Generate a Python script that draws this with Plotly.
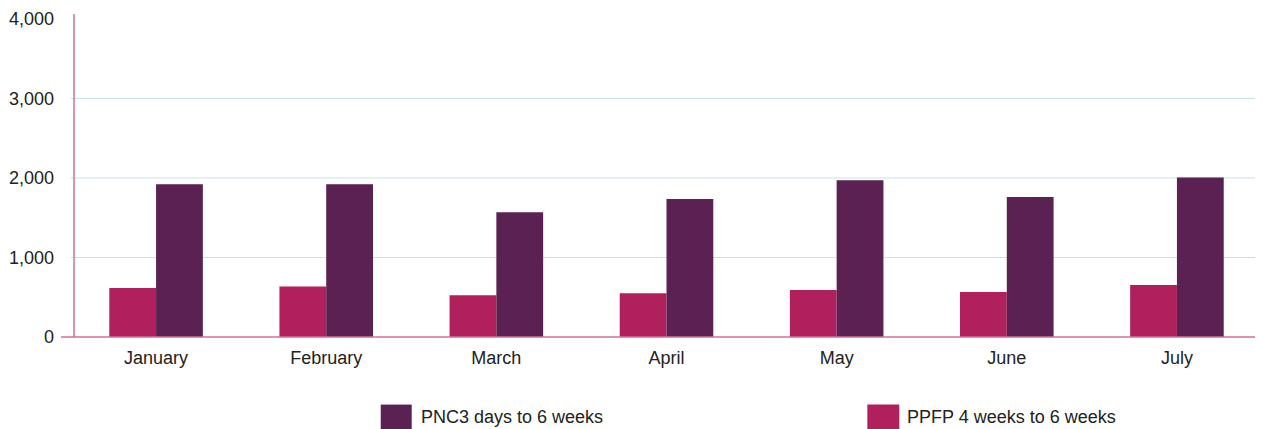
import plotly.graph_objects as go

months = ["January", "February", "March", "April", "May", "June", "July"]
pnc_values = [1920, 1920, 1570, 1735, 1970, 1760, 2005]
ppfp_values = [615, 635, 525, 550, 590, 565, 655]
pnc_name = "PNC3 days to 6 weeks"
ppfp_name = "PPFP 4 weeks to 6 weeks"
y_ticks = [0, 1000, 2000, 3000, 4000]

PNC_COLOR = "#5A2152"
PPFP_COLOR = "#B0205C"
AXIS_COLOR = "#D2709A"
GRID_COLOR = "#C5E2EA"

OFF = 8  # page body margin
W, H = 1263 - OFF, 429 - OFF
L, R, T, B = 70 - OFF, 1, 12 - OFF, 92
pw, ph = W - L - R, H - T - B

fig = go.Figure()
fig.add_trace(go.Bar(x=months, y=ppfp_values, name=ppfp_name,
                     marker=dict(color=PPFP_COLOR, line=dict(width=0)), showlegend=False))
fig.add_trace(go.Bar(x=months, y=pnc_values, name=pnc_name,
                     marker=dict(color=PNC_COLOR, line=dict(width=0)), showlegend=False))

def px_x(p):
    return (p - OFF - L) / pw

def px_y(p):
    return (H - B - (p - OFF)) / ph

shapes = []
# horizontal gridlines (the top tick has no gridline in the reference)
for v in y_ticks[1:-1]:
    shapes.append(dict(type="line", xref="paper", yref="y", x0=0, x1=1, y0=v, y1=v,
                       line=dict(color=GRID_COLOR, width=1), layer="below"))
shapes += [
    dict(type="line", xref="paper", yref="paper", x0=px_x(60), x1=1.0, y0=0, y1=0,
         line=dict(color=AXIS_COLOR, width=1.5), layer="above"),
    dict(type="line", xref="paper", yref="paper", x0=px_x(73), x1=px_x(73), y0=0, y1=1,
         line=dict(color=AXIS_COLOR, width=1.5), layer="above"),
    dict(type="rect", xref="paper", yref="paper", x0=px_x(380), x1=px_x(411),
         y0=px_y(430), y1=px_y(405), fillcolor=PNC_COLOR, line=dict(width=0)),
    dict(type="rect", xref="paper", yref="paper", x0=px_x(867), x1=px_x(899),
         y0=px_y(430), y1=px_y(405), fillcolor=PPFP_COLOR, line=dict(width=0)),
]

annotations = [
    dict(text=pnc_name, xref="paper", yref="paper", x=px_x(418), y=px_y(417),
         xanchor="left", yanchor="middle", showarrow=False,
         font=dict(size=18, color="#222222")),
    dict(text=ppfp_name, xref="paper", yref="paper", x=px_x(905), y=px_y(417),
         xanchor="left", yanchor="middle", showarrow=False,
         font=dict(size=18, color="#222222")),
]

fig.update_layout(
    width=W, height=H,
    margin=dict(l=L, r=R, t=T, b=B, pad=0),
    paper_bgcolor="white", plot_bgcolor="white",
    barmode="group", bargap=0.45, bargroupgap=0,
    font=dict(family="Liberation Sans, Arial, sans-serif", size=18, color="#222222"),
    showlegend=False,
    shapes=shapes,
    annotations=annotations,
    xaxis=dict(showgrid=False, showline=False, zeroline=False, ticks="",
               ticklabelstandoff=8, tickfont=dict(size=18, color="#222222")),
    yaxis=dict(range=[0, 4062], tickvals=y_ticks, tickformat=",",
               showgrid=False, zeroline=False, showline=False, ticks="",
               ticklabeloverflow="allow",
               ticklabelstandoff=16, tickfont=dict(size=18, color="#222222")),
)

fig.write_html("out.html")
